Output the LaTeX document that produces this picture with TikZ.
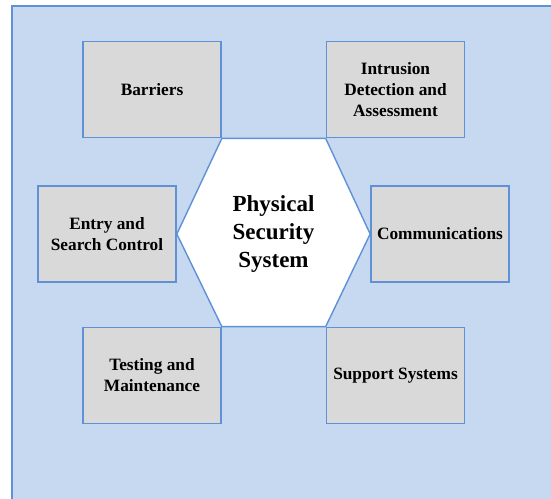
\documentclass[tikz,border=0pt]{standalone}
\usepackage{fontspec}
\setmainfont{Liberation Serif}
\usepackage{tikz}
\usetikzlibrary{positioning,calc}

\definecolor{panelblue}{RGB}{198,217,240}
\definecolor{edgeblue}{RGB}{95,145,215}
\definecolor{boxgray}{RGB}{217,217,217}

\begin{document}
\begin{tikzpicture}[
			x=1pt, y=-1pt, % pixel units
			part/.style={rectangle,draw=edgeblue,fill=boxgray,line width=1.7pt,minimum width=138pt,minimum height=96pt,inner sep=2pt,align=center,font=\bfseries\fontsize{17.3}{21}\selectfont},
			core/.style={align=center,font=\bfseries\fontsize{23}{28}\selectfont}]
		\clip (0,0) rectangle (551,498);
		\draw [edgeblue,fill=panelblue,line width=1.7pt] (12,6) rectangle (570,520);
		\path 	(152,89.5) 	node 	(bar) [part] {Barriers}
		        (395.5,89.5) node 	(ids) [part] {Intrusion\\Detection and\\Assessment}
		        (107,234) 	node 	(esc) [part] {Entry and\\Search Control}
		        (440,234) 	node 	(com) [part] {Communications}
		        (152,375.5) node 	(tam) [part] {Testing and\\Maintenance}
		        (395.5,375.5) node 	(sup) [part] {Support Systems};
		\draw [edgeblue,fill=white,line width=1.4pt] (bar.south east) -- (ids.south west) -- (com.west) -- (sup.north west) -- (tam.north east) -- (esc.east) -- cycle;
		\node (pss) [core] at ($(esc.east)!0.5!(com.west)$) {Physical\\Security\\System};
	\end{tikzpicture}
\end{document}
